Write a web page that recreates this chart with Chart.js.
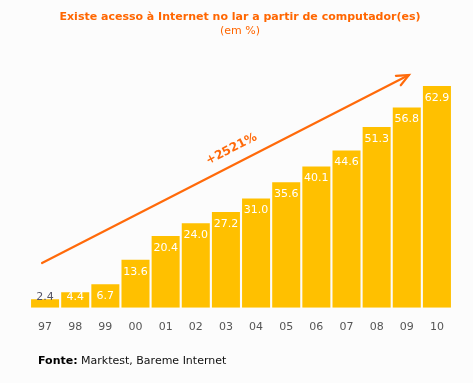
<!DOCTYPE html>
<html><head><meta charset="utf-8">
<script src="https://cdn.jsdelivr.net/npm/chart.js@4"></script>
<style>html,body{margin:0;padding:0;background:#fcfcfc;}#wrap{width:473px;height:383px;}</style>
</head><body><div id="wrap"><canvas id="c" width="473" height="383"></canvas></div>
<script>
const categories = ['97','98','99','00','01','02','03','04','05','06','07','08','09','10'];
const values = [2.4,4.4,6.7,13.6,20.4,24.0,27.2,31.0,35.6,40.1,44.6,51.3,56.8,62.9];
const valueLabels = ['2.4','4.4','6.7','13.6','20.4','24.0','27.2','31.0','35.6','40.1','44.6','51.3','56.8','62.9'];
const titleText = 'Existe acesso à Internet no lar a partir de computador(es)';
const subtitleText = '(em %)';
const growthText = '+2521%';
const sourceBold = 'Fonte:';
const sourceText = ' Marktest, Bareme Internet';
// arrow in data space: [category index, value]
const arrowFrom = [-0.1, 12.7];
const arrowTo = [12.07, 66.0];

const ORANGE = '#ff6600';
const FONT = '"DejaVu Sans", Verdana, sans-serif';

const decor = {
  id: 'decor',
  afterDatasetsDraw(chart) {
    const {ctx, scales:{x, y}} = chart;
    const meta = chart.getDatasetMeta(0);
    ctx.save();
    // value labels
    ctx.font = '11px ' + FONT;
    ctx.textAlign = 'center';
    ctx.textBaseline = 'middle';
    meta.data.forEach((bar, i) => {
      const base = bar.base;
      let ly = Math.min(bar.y + 12, base - 11);
      ctx.fillStyle = (ly < bar.y) ? '#555566' : '#ffffff';
      ctx.fillText(valueLabels[i], bar.x, ly);
    });
    // arrow
    const xp = v => {
      const w = x.getPixelForValue(1) - x.getPixelForValue(0);
      return x.getPixelForValue(0) + v * w;
    };
    const x1 = xp(arrowFrom[0]), y1 = y.getPixelForValue(arrowFrom[1]);
    const x2 = xp(arrowTo[0]), y2 = y.getPixelForValue(arrowTo[1]);
    ctx.strokeStyle = '#ff6a0a';
    ctx.lineWidth = 2.2;
    ctx.lineCap = 'round';
    ctx.beginPath(); ctx.moveTo(x1, y1); ctx.lineTo(x2, y2); ctx.stroke();
    const ang = Math.atan2(y2 - y1, x2 - x1);
    const hl = 13, ha = 0.42;
    ctx.beginPath();
    ctx.moveTo(x2 - hl*Math.cos(ang - ha), y2 - hl*Math.sin(ang - ha));
    ctx.lineTo(x2, y2);
    ctx.lineTo(x2 - hl*Math.cos(ang + ha), y2 - hl*Math.sin(ang + ha));
    ctx.stroke();
    // growth label
    const t = 0.535;
    const mx = x1 + (x2 - x1)*t, my = y1 + (y2 - y1)*t;
    ctx.translate(mx + 15*Math.sin(ang), my - 15*Math.cos(ang));
    ctx.rotate(ang);
    ctx.font = 'bold 12px ' + FONT;
    ctx.fillStyle = '#ff6a0a';
    ctx.fillText(growthText, 0, 0);
    ctx.restore();
  },
  afterDraw(chart) {
    const {ctx} = chart;
    ctx.save();
    ctx.textAlign = 'center';
    ctx.textBaseline = 'middle';
    ctx.fillStyle = ORANGE;
    ctx.font = 'bold 11px ' + FONT;
    ctx.fillText(titleText, 240, 17);
    ctx.font = '11px ' + FONT;
    ctx.fillText(subtitleText, 240, 31);
    ctx.textAlign = 'left';
    ctx.font = 'bold 11px ' + FONT;
    ctx.fillStyle = '#000';
    ctx.fillText(sourceBold, 38, 361);
    const w = ctx.measureText(sourceBold).width;
    ctx.font = '11px ' + FONT;
    ctx.fillStyle = '#111';
    ctx.fillText(sourceText, 38 + w, 361);
    ctx.restore();
  }
};

new Chart(document.getElementById('c'), {
  type: 'bar',
  data: {
    labels: categories,
    datasets: [{
      data: values,
      backgroundColor: '#ffc000',
      borderWidth: 0,
      categoryPercentage: 1,
      barPercentage: 0.93
    }]
  },
  options: {
    responsive: false,
    animation: false,
    events: [],
    layout: {padding: {top: 61, left: 30, right: 21, bottom: 36}},
    plugins: {legend: {display: false}, tooltip: {enabled: false}, title: {display: false}},
    scales: {
      x: {
        grid: {display: false, drawTicks: false},
        border: {display: false},
        ticks: {color: '#555555', font: {family: FONT, size: 11}, padding: 13}
      },
      y: {display: false, min: 0, max: 70}
    }
  },
  plugins: [decor]
});
</script></body></html>
